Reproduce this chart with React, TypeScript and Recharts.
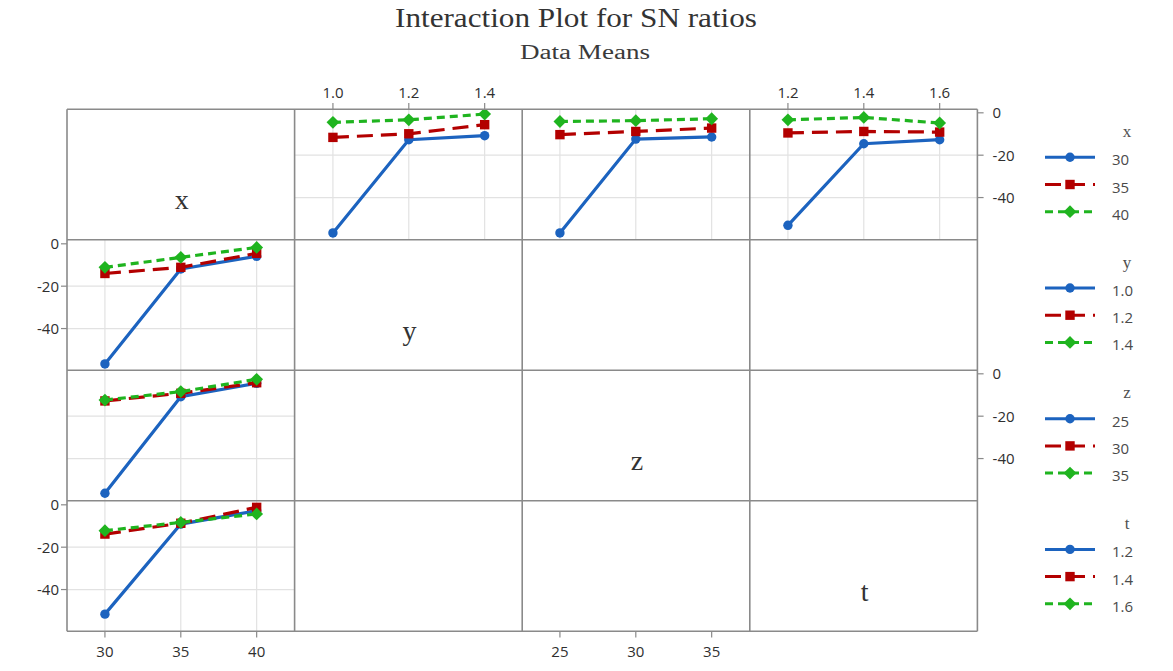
import React from 'react';
import { LineChart, Line, XAxis, YAxis, CartesianGrid } from 'recharts';

// ---------- data ----------
const factorNames = ['x', 'y', 'z', 't'];
const xLevels = [30, 35, 40];
const yLevels = [1.0, 1.2, 1.4];
const zLevels = [25, 30, 35];
const tLevels = [1.2, 1.4, 1.6];
const snTicks = [0, -20, -40];
const snDomain: [number, number] = [-59.8, 1.8];

// top row: horizontal factor = y / z / t, lines = levels of x (30, 35, 40)
const yAxis_x30 = [-56.7, -12.7, -10.8];
const yAxis_x35 = [-11.6, -9.9, -5.6];
const yAxis_x40 = [-4.5, -3.3, -0.6];

const zAxis_x30 = [-56.7, -12.4, -11.4];
const zAxis_x35 = [-10.3, -8.8, -7.2];
const zAxis_x40 = [-4.1, -3.7, -2.8];

const tAxis_x30 = [-53.1, -14.6, -12.7];
const tAxis_x35 = [-9.5, -8.8, -9.1];
const tAxis_x40 = [-3.3, -2.2, -4.8];

// left column: horizontal factor = x, lines = levels of y / z / t
const xAxis_y10 = [-56.7, -11.9, -5.9];
const xAxis_y12 = [-14.0, -11.1, -4.5];
const xAxis_y14 = [-11.1, -6.4, -1.7];

const xAxis_z25 = [-56.4, -10.8, -4.5];
const xAxis_z30 = [-12.8, -9.2, -4.2];
const xAxis_z35 = [-12.4, -8.4, -2.6];

const xAxis_t12 = [-51.6, -9.1, -2.8];
const xAxis_t14 = [-13.8, -8.7, -1.2];
const xAxis_t16 = [-12.2, -8.3, -4.3];

// ---------- layout / style ----------
const X0 = 67;
const Y0 = 109.3;
const CW = 227.6;
const CH = 130.5;
const M = 60;
const XH = 30;
const YW = 50;
const BORDER = '#8a8a8a';
const GRID = '#e2e2e2';
const TICK_TXT = '#2f2f2f';
const SANS = '"Open Sans", "Noto Sans", sans-serif';
const SERIF = '"Liberation Serif", "DejaVu Serif", serif';

const fmtInt = (v: number) => String(Math.round(v));
const fmt1 = (v: number) => v.toFixed(1);

const colAxes = [
  { levels: xLevels, step: 5, fmt: fmtInt },
  { levels: yLevels, step: 0.2, fmt: fmt1 },
  { levels: zLevels, step: 5, fmt: fmtInt },
  { levels: tLevels, step: 0.2, fmt: fmt1 },
];

const seriesStyles = [
  { color: '#1c63bf', dash: undefined as string | undefined, shape: 'circle' },
  { color: '#b30000', dash: '16 8', shape: 'square' },
  { color: '#1fb41f', dash: '8 5', shape: 'diamond' },
];

const panelSeries: Record<string, number[][]> = {
  '0-1': [yAxis_x30, yAxis_x35, yAxis_x40],
  '0-2': [zAxis_x30, zAxis_x35, zAxis_x40],
  '0-3': [tAxis_x30, tAxis_x35, tAxis_x40],
  '1-0': [xAxis_y10, xAxis_y12, xAxis_y14],
  '2-0': [xAxis_z25, xAxis_z30, xAxis_z35],
  '3-0': [xAxis_t12, xAxis_t14, xAxis_t16],
};

function Marker({ shape, color, cx, cy }: { shape: string; color: string; cx: number; cy: number }) {
  if (shape === 'circle') return <circle cx={cx} cy={cy} r={4.7} fill={color} />;
  if (shape === 'square') return <rect x={cx - 4.7} y={cy - 4.7} width={9.4} height={9.4} fill={color} />;
  return (
    <polygon
      points={`${cx},${cy - 6.4} ${cx + 6.4},${cy} ${cx},${cy + 6.4} ${cx - 6.4},${cy}`}
      fill={color}
    />
  );
}

const makeDot = (shape: string, color: string) => (props: any) => {
  const { cx, cy, index } = props;
  if (cx == null || cy == null) return <g key={`n${index}`} />;
  return (
    <g key={`d${index}`}>
      <Marker shape={shape} color={color} cx={cx} cy={cy} />
    </g>
  );
};

function Panel({ r, c }: { r: number; c: number }) {
  const ax = colAxes[c];
  const series = panelSeries[`${r}-${c}`];
  const xOrient: 'top' | 'bottom' | null =
    c % 2 === 0 ? (r === 3 ? 'bottom' : null) : r === 0 ? 'top' : null;
  const yOrient: 'left' | 'right' | null =
    r % 2 === 0 ? (c === 3 ? 'right' : null) : c === 0 ? 'left' : null;
  if (!series && !xOrient && !yOrient) return null;

  const data = ax.levels.map((lv, i) => {
    const o: any = { level: lv };
    (series || []).forEach((s, k) => {
      o['s' + k] = s[i];
    });
    return o;
  });
  const margin = {
    top: M - (xOrient === 'top' ? XH : 0),
    bottom: M - (xOrient === 'bottom' ? XH : 0),
    left: M - (yOrient === 'left' ? YW : 0),
    right: M - (yOrient === 'right' ? YW : 0),
  };
  const xDomain: [number, number] = [
    ax.levels[0] - ax.step / 2,
    ax.levels[ax.levels.length - 1] + ax.step / 2,
  ];
  const tickStyle = { fontSize: 15, fill: TICK_TXT, fontFamily: SANS };

  return (
    <div style={{ position: 'absolute', left: X0 + c * CW - M, top: Y0 + r * CH - M }}>
      <LineChart width={CW + 2 * M} height={CH + 2 * M} data={data} margin={margin}>
        {series && (
          <CartesianGrid
            stroke={GRID}
            strokeWidth={1.2}
            horizontalValues={[-20, -40]}
            verticalValues={ax.levels}
          />
        )}
        <XAxis
          dataKey="level"
          type="number"
          domain={xDomain}
          ticks={ax.levels}
          interval={0}
          allowDataOverflow
          hide={!xOrient}
          orientation={xOrient || 'bottom'}
          height={XH}
          axisLine={false}
          tickLine={{ stroke: BORDER, strokeWidth: 1.2 }}
          tickSize={6}
          tickMargin={xOrient === 'top' ? 5 : 9}
          tick={tickStyle}
          tickFormatter={ax.fmt}
        />
        <YAxis
          type="number"
          domain={snDomain}
          ticks={snTicks}
          interval={0}
          allowDataOverflow
          hide={!yOrient}
          orientation={yOrient || 'left'}
          width={YW}
          axisLine={false}
          tickLine={{ stroke: BORDER, strokeWidth: 1.2 }}
          tickSize={6}
          tickMargin={yOrient === 'left' ? 2 : 9}
          tick={tickStyle}
        />
        {(series || []).map((_, k) => (
          <Line
            key={k}
            type="linear"
            dataKey={'s' + k}
            stroke={seriesStyles[k].color}
            strokeWidth={3.2}
            strokeDasharray={seriesStyles[k].dash}
            dot={makeDot(seriesStyles[k].shape, seriesStyles[k].color)}
            activeDot={false}
            isAnimationActive={false}
          />
        ))}
      </LineChart>
    </div>
  );
}

function Overlay() {
  const lines: React.ReactNode[] = [];
  for (let i = 0; i <= 4; i++) {
    lines.push(
      <line key={'v' + i} x1={X0 + i * CW} x2={X0 + i * CW} y1={Y0} y2={Y0 + 4 * CH} stroke={BORDER} strokeWidth={1.6} />
    );
    lines.push(
      <line key={'h' + i} x1={X0} x2={X0 + 4 * CW} y1={Y0 + i * CH} y2={Y0 + i * CH} stroke={BORDER} strokeWidth={1.6} />
    );
  }
  const legendX1 = 1045;
  const legendX2 = 1095;
  return (
    <svg
      width={1173}
      height={671}
      style={{ position: 'absolute', left: 0, top: 0, pointerEvents: 'none' }}
    >
      <text
        x={576}
        y={27}
        textAnchor="middle"
        fontFamily={SERIF}
        fontSize={27}
        fill="#333"
        textLength={362}
        lengthAdjust="spacingAndGlyphs"
      >
        Interaction Plot for SN ratios
      </text>
      <text
        x={585}
        y={59}
        textAnchor="middle"
        fontFamily={SERIF}
        fontSize={20}
        fill="#3a3a3a"
        textLength={130}
        lengthAdjust="spacingAndGlyphs"
      >
        Data Means
      </text>
      {lines}
      {factorNames.map((f, i) => (
        <text
          key={'diag' + f}
          x={X0 + (i + 0.5) * CW + 1}
          y={Y0 + i * CH + 100}
          textAnchor="middle"
          fontFamily={SERIF}
          fontSize={28}
          fill="#333"
        >
          {f}
        </text>
      ))}
      {factorNames.map((f, g) => {
        const base = 157.3 + g * 130.7;
        const ax = colAxes[g];
        return (
          <g key={'leg' + f}>
            <text x={1127} y={base - 20.5} textAnchor="middle" fontFamily={SERIF} fontSize={17} fill="#505050">
              {f}
            </text>
            {ax.levels.map((lv, k) => {
              const y = base + k * 27.2;
              const st = seriesStyles[k];
              return (
                <g key={'li' + k}>
                  <line
                    x1={legendX1}
                    x2={legendX2}
                    y1={y}
                    y2={y}
                    stroke={st.color}
                    strokeWidth={3}
                    strokeDasharray={st.dash}
                  />
                  <Marker shape={st.shape} color={st.color} cx={(legendX1 + legendX2) / 2} cy={y} />
                  <text x={1112} y={y + 8} fontFamily={SANS} fontSize={15} fill="#4a4a4a">
                    {ax.fmt(lv)}
                  </text>
                </g>
              );
            })}
          </g>
        );
      })}
    </svg>
  );
}

export default function App() {
  const cells: React.ReactNode[] = [];
  for (let r = 0; r < 4; r++) {
    for (let c = 0; c < 4; c++) {
      cells.push(<Panel key={`${r}-${c}`} r={r} c={c} />);
    }
  }
  return (
    <div
      style={{
        position: 'absolute',
        left: 0,
        top: 0,
        width: 1173,
        height: 671,
        background: '#fff',
        overflow: 'hidden',
      }}
    >
      {cells}
      <Overlay />
    </div>
  );
}
